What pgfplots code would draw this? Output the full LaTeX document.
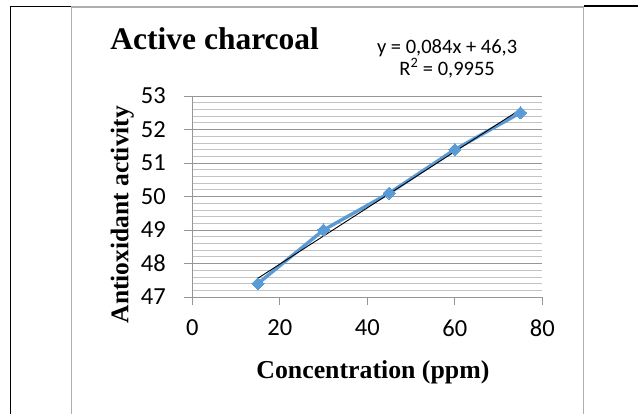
\documentclass[border=0pt]{standalone}
\usepackage{pgfplots}
\pgfplotsset{compat=1.18}
\usepackage{fontspec}
\setmainfont{Liberation Serif}
\newfontfamily\calibri{Carlito}
\definecolor{exblue}{RGB}{91,155,213}
\definecolor{majgrid}{RGB}{150,150,150}
\definecolor{mingrid}{RGB}{195,195,195}
\definecolor{framegray}{RGB}{175,175,175}
\begin{document}
\begin{tikzpicture}[x=1pt,y=1pt]
% outer frame
\draw[framegray, line width=1.2pt] (71.7,0) -- (71.7,407) -- (583.7,407) -- (583.7,0);
\draw[black, line width=1.6pt] (10,407.5) -- (71,407.5);
\draw[black, line width=1.6pt] (584.3,408) -- (638,408);
\draw[black, line width=1.4pt] (10.5,0) -- (10.5,408.3);
\begin{axis}[
  at={(192.3pt,117pt)}, anchor=south west,
  scale only axis, width=350pt, height=201pt,
  xmin=0, xmax=80, ymin=47, ymax=53,
  xtick={0,20,40,60,80}, ytick={47,48,...,53},
  minor y tick num=4,
  ymajorgrids, yminorgrids,
  major grid style={majgrid, line width=0.8pt},
  minor grid style={mingrid, line width=0.7pt},
  axis x line*=bottom, axis y line*=left,
  axis line style={majgrid, line width=0.8pt, -},
  every tick/.style={majgrid, line width=0.8pt},
  tick align=outside, major tick length=8pt, minor tick length=0pt,
  tick pos=left,
  /pgf/number format/assume math mode=true,
  tick label style={font=\calibri\fontsize{24.5}{28}\selectfont, text=black},
  yticklabel style={xshift=-15pt},
  xticklabel style={yshift=-11pt},
  clip=false,
  title={Active charcoal},
  title style={font=\bfseries\fontsize{31.5}{34}\selectfont, at={(rel axis cs:0.064,1.2)}, anchor=base, inner sep=0pt},
  xlabel={Concentration (ppm)},
  xlabel style={font=\bfseries\fontsize{25.8}{30}\selectfont, at={(rel axis cs:0.516,-0.375)}, anchor=center, inner sep=0pt},
  ylabel={Antioxidant activity},
  ylabel style={font=\bfseries\fontsize{25.5}{30}\selectfont, at={(rel axis cs:-0.200,0.41)}, anchor=center, inner sep=0pt, rotate=0},
]
\addplot[exblue, line width=3.4pt, mark=square*, mark size=4.3pt, mark options={rotate=45, line width=0pt}]
  coordinates {(15,47.4) (30,49.0) (45,50.1) (60,51.4) (75,52.5)};
\addplot[black, line width=0.9pt] coordinates {(15,47.56) (75,52.6)};
\node[font=\calibri\fontsize{20.5}{22}\selectfont, align=center, anchor=center, inner sep=0pt]
  at (rel axis cs:0.728,1.185) {y = 0,084x + 46,3\\R\textsuperscript{2} = 0,9955};
\end{axis}
\pgfresetboundingbox
\path[use as bounding box] (0,0) rectangle (638,414);
\end{tikzpicture}
\end{document}
